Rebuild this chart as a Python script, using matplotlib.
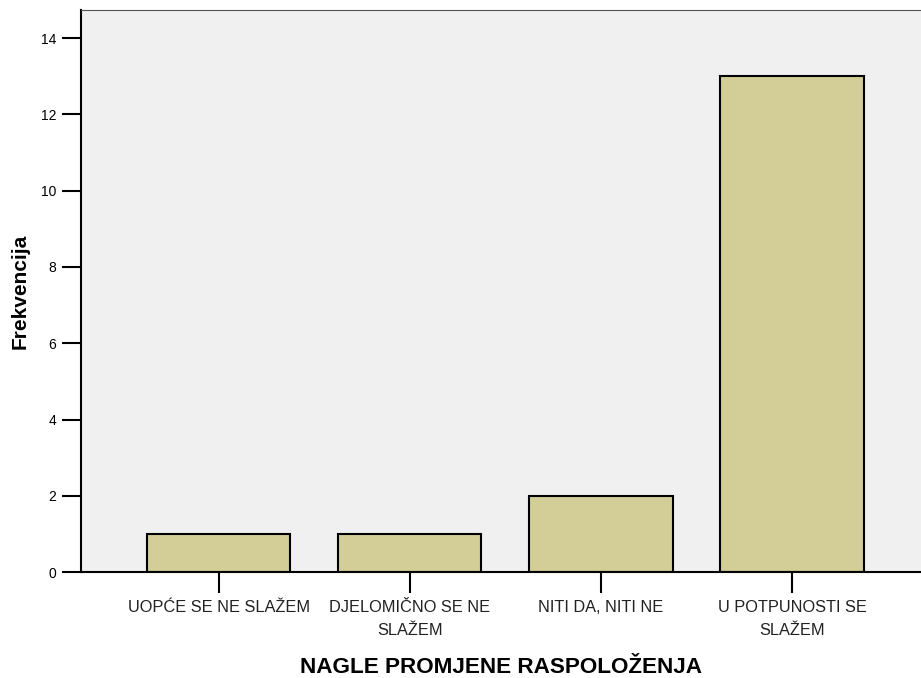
import matplotlib.pyplot as plt

# podaci
categories = ["UOPĆE SE NE SLAŽEM", "DJELOMIČNO SE NE\nSLAŽEM",
              "NITI DA, NITI NE", "U POTPUNOSTI SE\nSLAŽEM"]
counts = [1, 1, 2, 13]
yticks = [0, 2, 4, 6, 8, 10, 12, 14]

plt.rcParams['font.family'] = ['Liberation Sans', 'DejaVu Sans']

fig = plt.figure(figsize=(9.21, 6.78), dpi=100)
ax = fig.add_axes([0.088, 0.156, 0.912, 0.829])
ax.set_facecolor('#F0F0F0')

x = list(range(len(categories)))
ax.bar(x, counts, width=0.75, color='#D3CE98', edgecolor='black', linewidth=1.5, zorder=2)

ax.set_xlim(-0.72, 3.675)
ax.set_ylim(0, 14.73)
ax.set_xticks(x)
ax.set_xticklabels(categories, fontsize=11.8, linespacing=1.65, color='#222222')
ax.set_yticks(yticks)
ax.tick_params(axis='y', length=14, width=1.5, labelsize=10, pad=4)
ax.tick_params(axis='x', length=15, width=1.5, pad=5)

ax.spines['left'].set_linewidth(1.5)
ax.spines['bottom'].set_linewidth(1.5)
ax.spines['top'].set_color('#555555')
ax.spines['right'].set_visible(False)

ax.set_ylabel("Frekvencija", fontsize=15, fontweight='bold', labelpad=8)
ax.set_xlabel("NAGLE PROMJENE RASPOLOŽENJA", fontsize=16.2, fontweight='bold', labelpad=14)

fig.savefig("out.png", dpi=100)
